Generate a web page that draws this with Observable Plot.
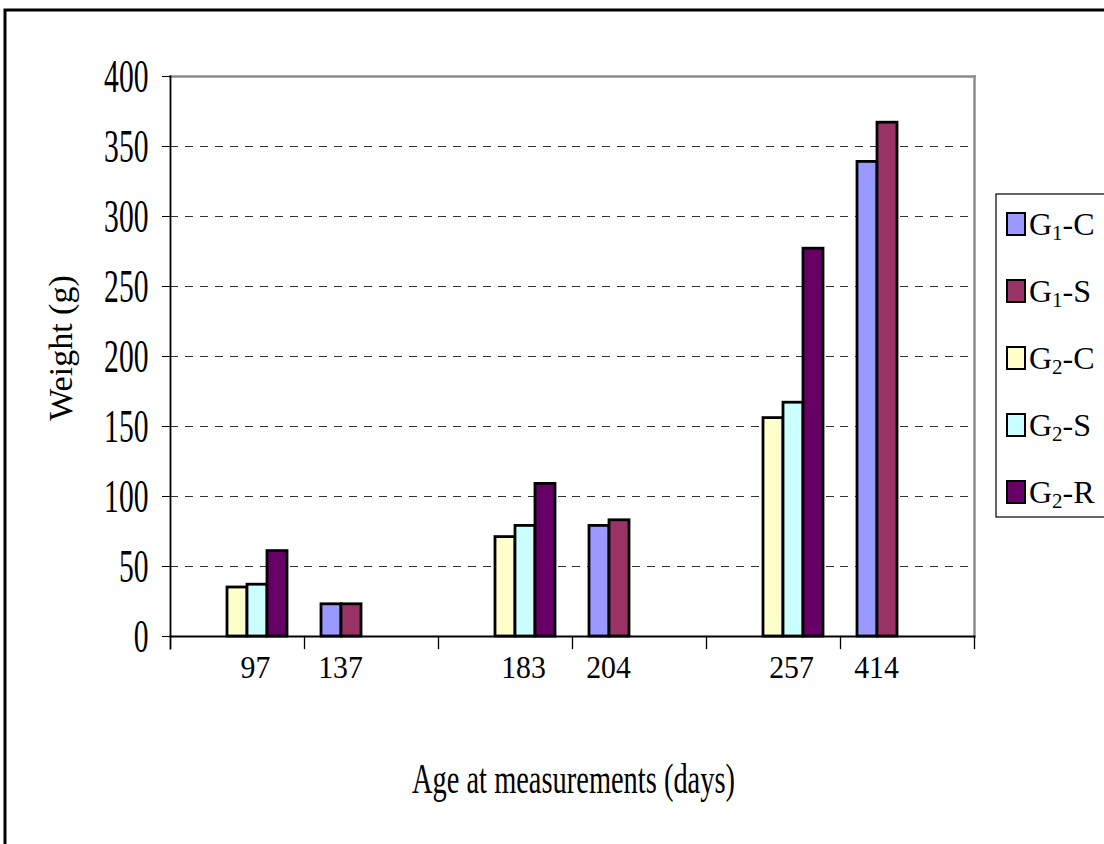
<!DOCTYPE html>
<html>
<head>
<meta charset="utf-8">
<script src="https://cdn.jsdelivr.net/npm/d3@7"></script>
<script src="https://cdn.jsdelivr.net/npm/@observablehq/plot@0.6"></script>
<style>
  html, body { margin: 0; padding: 0; background: #fff; }
  #chart { position: relative; width: 1104px; height: 844px; overflow: hidden; }
  #chart svg { display: block; }
</style>
</head>
<body>
<div id="chart"></div>
<script>
// ---- data ----
const ages = ["97", "137", "183", "204", "257", "414"];
const seriesKeys = ["G1-C", "G1-S", "G2-C", "G2-S", "G2-R"];
const legendSub = ["1", "1", "2", "2", "2"];
const legendSuffix = ["-C", "-S", "-C", "-S", "-R"];
const g1C = [null, 23, null, 79, null, 339];
const g1S = [null, 23, null, 83, null, 367];
const g2C = [35, null, 71, null, 156, null];
const g2S = [37, null, 79, null, 167, null];
const g2R = [61, null, 109, null, 277, null];
const seriesColors = ["#9999FF", "#993366", "#FFFFCC", "#CCFFFF", "#660066"];
const yTicks = [0, 50, 100, 150, 200, 250, 300, 350, 400];
const gridTicks = [50, 100, 150, 200, 250, 300, 350];
const yTitle = "Weight (g)";
const xTitle = "Age at measurements (days)";

const seriesValues = [g1C, g1S, g2C, g2S, g2R];
const data = [];
seriesKeys.forEach((s, si) => {
  ages.forEach((a, ai) => {
    const v = seriesValues[si][ai];
    if (v != null) data.push({age: a, series: s, value: v});
  });
});
const oddAges = ages.filter((d, i) => i % 2 === 0);
const evenAges = ages.filter((d, i) => i % 2 === 1);

const font = "Liberation Serif, Times New Roman, serif";

const plot = Plot.plot({
  width: 1104,
  height: 844,
  marginLeft: 168,
  marginRight: 129,
  marginTop: 76,
  marginBottom: 208,
  style: {fontFamily: font, background: "transparent", color: "black"},
  fx: {domain: ages, padding: 0, axis: null},
  x: {domain: seriesKeys, paddingInner: 0, paddingOuter: 0.75, axis: null},
  y: {domain: [0, 400], axis: null},
  color: {domain: seriesKeys, range: seriesColors},
  marks: [
    Plot.ruleY(gridTicks, {stroke: "#333", strokeWidth: 1.2, strokeDasharray: "8,7"}),
    Plot.barY(data, {fx: "age", x: "series", y: "value", fill: "series", stroke: "black", strokeWidth: 2.8}),
    Plot.frame({facet: "super", anchor: "top", stroke: "#8c8c8c", strokeWidth: 2.5}),
    Plot.frame({facet: "super", anchor: "right", stroke: "#8c8c8c", strokeWidth: 2.5}),
    Plot.frame({facet: "super", anchor: "bottom", stroke: "black", strokeWidth: 1.8}),
    Plot.frame({facet: "super", anchor: "left", insetBottom: -12, stroke: "black", strokeWidth: 1.8}),
    Plot.frame({anchor: "right", insetTop: 560, insetBottom: -12, stroke: "black", strokeWidth: 1.3}),
    Plot.axisY({ticks: yTicks, tickSize: 8, tickPadding: 14, fontSize: 47, label: null, stroke: "black"}),
    Plot.text(oddAges, {fx: d => d, text: d => d, frameAnchor: "bottom", dy: 41, dx: 18, fontSize: 32, fill: "black"}),
    Plot.text(evenAges, {fx: d => d, text: d => d, frameAnchor: "bottom", dy: 41, dx: -31, fontSize: 32, fill: "black"})
  ]
});

document.getElementById("chart").append(plot);
const svg = d3.select(plot);

// condensed look of the Excel text
svg.selectAll('g[aria-label="y-axis tick label"] text').each(function() {
  const w = this.getComputedTextLength();
  d3.select(this).attr("textLength", w * 0.63).attr("lengthAdjust", "spacingAndGlyphs");
});
svg.selectAll('g[aria-label="text"] text').each(function() {
  const w = this.getComputedTextLength();
  d3.select(this).attr("textLength", w * 0.93).attr("lengthAdjust", "spacingAndGlyphs");
});

// titles
svg.append("text")
  .attr("transform", "translate(72,348) rotate(-90)")
  .attr("text-anchor", "middle")
  .attr("font-family", font)
  .attr("font-size", 34)
  .attr("fill", "black")
  .text(yTitle);

svg.append("text")
  .attr("x", 573.5).attr("y", 793)
  .attr("text-anchor", "middle")
  .attr("font-family", font)
  .attr("font-size", 43)
  .attr("fill", "black")
  .attr("textLength", 323)
  .attr("lengthAdjust", "spacingAndGlyphs")
  .text(xTitle);

// legend
const color = plot.scale("color");
const lg = svg.append("g").attr("font-family", font).attr("fill", "black").attr("text-anchor", "start");
lg.append("rect").attr("x", 996).attr("y", 194).attr("width", 200).attr("height", 323)
  .attr("fill", "white").attr("stroke", "black").attr("stroke-width", 1.2);
color.domain.forEach((key, i) => {
  const cy = 224 + i * 67;
  lg.append("rect").attr("x", 1007).attr("y", cy - 11).attr("width", 18).attr("height", 22)
    .attr("fill", color.range[i]).attr("stroke", "black").attr("stroke-width", 2);
  const t = lg.append("text").attr("x", 1029).attr("y", cy + 11).attr("font-size", 32).attr("text-anchor", "start");
  t.append("tspan").text("G");
  t.append("tspan").attr("font-size", 21).attr("dy", 5).text(legendSub[i]);
  t.append("tspan").attr("dy", -5).text(legendSuffix[i]);
});

// outer chart border
svg.append("rect").attr("x", 5).attr("y", 10).attr("width", 1300).attr("height", 1000)
  .attr("fill", "none").attr("stroke", "black").attr("stroke-width", 3);
</script>
</body>
</html>
